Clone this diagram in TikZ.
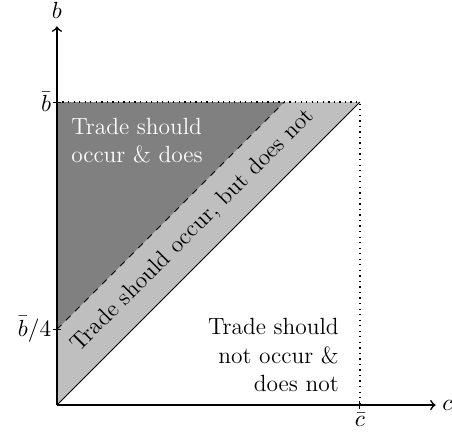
\documentclass[tikz,border=0pt]{standalone}
\begin{document}
\begin{tikzpicture}[x=5cm,y=5cm,
  every node/.style={font=\fontsize{11}{13.2}\selectfont},
  axis/.style={->,thick},
  tickmark/.style={thin},
  guide/.style={dotted,line width=0.6pt}]
\useasboundingbox (-0.188,-0.099) rectangle (1.304,1.337);
\coordinate (O) at (0,0);
\coordinate (B) at (0,1);
\coordinate (Q) at (0,0.25);
\coordinate (C) at (1,0);
\coordinate (T) at (1,1);
\coordinate (D) at (0.75,1);
\coordinate (XE) at (1.25,0);
\coordinate (YE) at (0,1.25);
% regions
\fill[lightgray] (O) -- (Q) -- (D) -- (T) -- cycle;
\fill[gray] (Q) -- (B) -- (D) -- cycle;
\draw[dashed] (Q) -- (D);
\draw (O) -- (T);
\draw[guide] (B) -- (T) -- (C);
% axes
\draw[axis] (O) -- (XE);
\draw[axis] (O) -- (YE);
\node[anchor=west,inner sep=3pt] (cl) at (XE) {$c$};
\node[anchor=south] (bl) at (YE) {$b$};
% ticks
\draw[tickmark] ([xshift=-2pt]B) -- ([xshift=2pt]B);
\draw[tickmark] ([xshift=-2pt]Q) -- ([xshift=2pt]Q);
\draw[tickmark] ([yshift=-2pt]C) -- ([yshift=2pt]C);
\node[anchor=east,inner sep=0.5pt] (blab) at ([xshift=-2pt]B) {$\bar b$};
\node[anchor=east,inner sep=0.5pt] (qlab) at ([xshift=-2pt]Q) {$\bar b/4$};
\node[anchor=north,inner sep=1.5pt] (clab) at ([yshift=-2pt]C) {$\bar c$};
% texts
\node[text=white,align=left] (t1) at (0.264,0.873) {Trade should\\occur \& does};
\node[rotate=45] (t2) at (0.449,0.576) {Trade should occur, but does not};
\node[align=right,anchor=east] (t3) at (0.955,0.165) {Trade should\\not occur \&\\does not};
\end{tikzpicture}
\end{document}
